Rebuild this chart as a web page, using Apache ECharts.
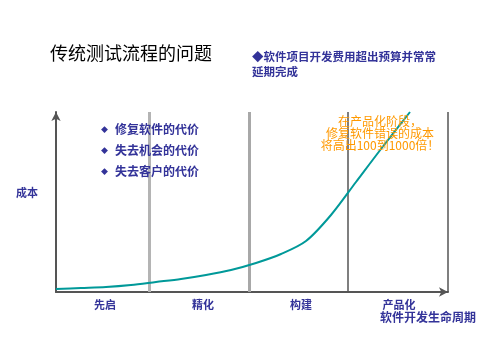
<!DOCTYPE html>
<html><head><meta charset="utf-8">
<script src="https://cdn.jsdelivr.net/npm/echarts@6/dist/echarts.min.js"></script>
<style>html,body{margin:0;padding:0;background:#fff}#c{width:480px;height:360px}</style>
</head><body><div id="c"></div>
<script>
// Data
var phases = ['先启', '精化', '构建', '产品化'];
var curveX = [0, 25, 50, 75, 100, 125, 150, 175, 200, 225, 250, 275, 300, 325, 354];
var curveY = [3, 4, 5, 7, 10, 13, 17, 22, 29, 38, 51, 77, 110, 143, 180];
var separators = [93, 193, 292, 392];
var bullets = ['修复软件的代价', '失去机会的代价', '失去客户的代价'];
var noteLines = ['在产品化阶段，', '修复软件错误的成本', '将高出100到1000倍！'];

var navy = '#333399';
var font = '"Noto Sans CJK SC", sans-serif';
var sepStyles = [
  {color: '#b4b4b4', width: 3, type: 'solid'},
  {color: '#a8a8a8', width: 3, type: 'solid'},
  {color: '#555555', width: 1.5, type: 'solid'},
  {color: '#555555', width: 1.5, type: 'solid'}
];

var chart = echarts.init(document.getElementById('c'), null, {renderer: 'canvas'});
var graphics = [
  {type: 'text', left: 50, top: 44, style: {text: '传统测试流程的问题', font: '18px ' + font, fill: '#000'}},
  {type: 'text', left: 252, top: 49, style: {text: '◆软件项目开发费用超出预算并常常\n延期完成', font: 'bold 11.5px ' + font, fill: navy, lineHeight: 15}},
  {type: 'text', left: 16, top: 187, style: {text: '成本', font: 'bold 11px ' + font, fill: navy}},
  {type: 'text', left: 380, top: 311, style: {text: '软件开发生命周期', font: 'bold 12px ' + font, fill: navy}},
  {type: 'text', x: 380, y: 115, z: 10, style: {text: noteLines.join('\n'), font: '12px ' + font, fill: '#ff9900', align: 'center', lineHeight: 12}}
];
bullets.forEach(function (b, i) {
  graphics.push({type: 'text', left: 101, top: 126 + i * 21, style: {text: '◆', font: '7px ' + font, fill: navy}});
  graphics.push({type: 'text', left: 115, top: 123 + i * 21, z: 10, style: {text: b, font: 'bold 12px ' + font, fill: navy}});
});

chart.setOption({
  animation: false,
  grid: {left: 56, top: 112, width: 392, height: 180},
  xAxis: [
    {type: 'value', min: 0, max: 392, position: 'bottom',
     axisLine: {show: true, lineStyle: {color: '#555', width: 2}, symbol: ['none', 'arrow'], symbolSize: [7, 9]},
     axisTick: {show: false}, axisLabel: {show: false}, splitLine: {show: false}},
    {type: 'category', data: phases, position: 'bottom', boundaryGap: true,
     axisLine: {show: false}, axisTick: {show: false}, splitLine: {show: false},
     axisLabel: {show: true, margin: 7, color: navy, fontWeight: 'bold', fontSize: 11, fontFamily: font}}
  ],
  yAxis: {type: 'value', min: 0, max: 180,
    axisLine: {show: true, lineStyle: {color: '#555', width: 2}, symbol: ['none', 'arrow'], symbolSize: [7, 9]},
    axisTick: {show: false}, axisLabel: {show: false}, splitLine: {show: false}},
  series: [{
    type: 'line', xAxisIndex: 0, smooth: 0.3, showSymbol: false, silent: true,
    lineStyle: {color: '#009999', width: 2},
    data: curveX.map(function (x, i) { return [x, curveY[i]]; }),
    z: 3,
    markLine: {
      silent: true, symbol: 'none', label: {show: false}, z: 2,
      data: separators.map(function (s, i) {
        return [{coord: [s, 0], lineStyle: sepStyles[i]}, {coord: [s, 180]}];
      })
    }
  }],
  graphic: graphics
});
</script></body></html>
